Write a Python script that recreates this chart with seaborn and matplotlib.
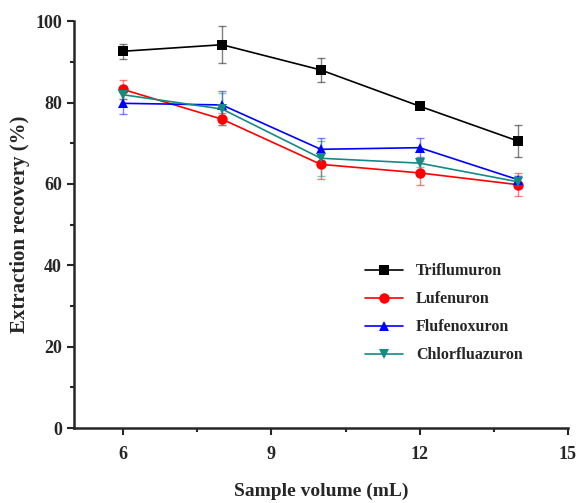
import pandas as pd
import matplotlib.pyplot as plt
import seaborn as sns
from matplotlib.ticker import MultipleLocator

# %% data
volume = [6, 8, 10, 12, 14]
names = ["Triflumuron", "Lufenuron", "Flufenoxuron", "Chlorfluazuron"]
triflumuron = [92.6, 94.2, 88.0, 79.1, 70.5]
triflumuronErr = [1.8, 4.5, 3.0, 0.5, 4.0]
lufenuron = [83.2, 75.9, 64.8, 62.7, 59.8]
lufenuronErr = [2.3, 1.5, 3.7, 3.0, 2.8]
flufenoxuron = [79.8, 79.4, 68.5, 68.9, 61.0]
flufenoxuronErr = [2.7, 3.5, 2.9, 2.4, 1.0]
chlorfluazuron = [81.9, 78.4, 66.3, 65.1, 60.5]
chlorfluazuronErr = [1.0, 4.0, 4.3, 1.0, 1.5]

colours = ["black", "red", "blue", "#138a84"]
markers = ["s", "o", "^", "v"]

df = pd.DataFrame({
    "volume": volume * 4,
    "recovery": triflumuron + lufenuron + flufenoxuron + chlorfluazuron,
    "err": triflumuronErr + lufenuronErr + flufenoxuronErr + chlorfluazuronErr,
    "compound": [n for n in names for _ in volume],
})

sns.set_style("ticks")
plt.rcParams["font.family"] = ["Liberation Serif", "DejaVu Serif"]
plt.rcParams["font.weight"] = "bold"

fig = plt.figure(figsize=(5.77, 5.03), dpi=100)
ax = fig.add_axes([0.128, 0.149, 0.856, 0.809])

# error bars first, lighter, under the lines
for idx, name in enumerate(names):
    sub = df[df["compound"] == name]
    ax.errorbar(sub["volume"], sub["recovery"], yerr=sub["err"], fmt="none",
                ecolor=colours[idx], alpha=0.5, elinewidth=1, capsize=3, capthick=1)

sns.lineplot(data=df, x="volume", y="recovery", hue="compound", style="compound",
             palette=colours, markers=markers, dashes=False, markersize=7.5,
             markeredgewidth=0, linewidth=1.2, ax=ax)

ax.set_xlim(5, 15)
ax.set_ylim(0, 100)
ax.xaxis.set_major_locator(MultipleLocator(3))
ax.xaxis.set_minor_locator(MultipleLocator(1.5))
ax.yaxis.set_major_locator(MultipleLocator(20))
ax.yaxis.set_minor_locator(MultipleLocator(10))
ax.set_xticks([6, 9, 12, 15])
ax.tick_params(which="major", length=5, width=1.5, labelsize=13)
ax.tick_params(which="minor", length=3, width=1.5)
ax.tick_params("x", pad=8)
for s in ["left", "bottom"]:
    ax.spines[s].set_linewidth(1.8)
sns.despine(ax=ax)

ax.set_xlabel("Sample volume (mL)", fontsize=14, fontweight="bold", labelpad=14)
ax.set_ylabel("Extraction recovery (%)", fontsize=15, fontweight="bold", labelpad=4)

leg = ax.legend(loc="upper left", bbox_to_anchor=(0.56, 0.44), frameon=False,
                fontsize=11.5, handlelength=2.4, labelspacing=0.75, title=None)
for t in leg.get_texts():
    t.set_fontweight("bold")

plt.savefig("out.png", dpi=100)
